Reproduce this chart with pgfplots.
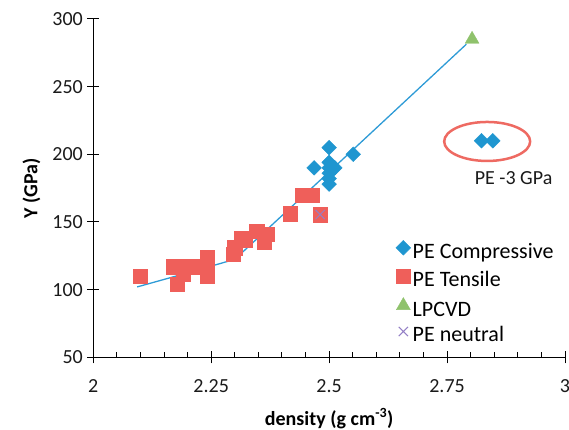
\documentclass[border=0pt]{standalone}
\usepackage{fontspec}
\setmainfont{Carlito}
\usepackage{pgfplots}
\pgfplotsset{compat=1.18}

\definecolor{compblue}{HTML}{1F96D0}
\definecolor{tensred}{HTML}{EF5F5A}
\definecolor{lpgreen}{HTML}{8FC26C}
\definecolor{neutpurple}{HTML}{9480C6}
\definecolor{trendblue}{HTML}{2E9BD6}
\definecolor{ringred}{HTML}{EE6A62}
\definecolor{ticktext}{HTML}{1A1A1A}

\begin{document}
\begin{tikzpicture}[font=\fontsize{20bp}{24bp}\selectfont]
\begin{axis}[
  at={(0,0)}, anchor=south west,
  scale only axis,
  width=471.7bp, height=338.3bp,
  xmin=2, xmax=3, ymin=50, ymax=300,
  axis lines=left,
  axis line style={-, line width=1.2bp, black},
  xtick={2,2.25,2.5,2.75,3},
  xticklabels={2,2.25,2.5,2.75,3},
  ytick={50,100,...,300},
  minor x tick num=4,
  tick align=center,
  major tick length=12bp,
  minor tick length=5bp,
  every tick/.style={black, line width=1bp},
  minor x tick style={yshift=2.5bp},
  /pgf/number format/assume math mode=true,
  tick label style={text=ticktext},
  xticklabel style={yshift=-13bp},
  yticklabel style={xshift=-1bp},
  xlabel={\textbf{density (g cm\textsuperscript{-3})}},
  ylabel={\textbf{Y (GPa)}},
  xlabel style={yshift=-9bp},
  ylabel style={yshift=5bp},
  clip=false,
  legend style={
    at={(axis description cs:0.635,0.352)}, anchor=north west,
    draw=none, fill=none,
    font=\fontsize{22bp}{26bp}\selectfont,
    row sep=6.8bp,
    nodes={inner xsep=2bp, inner ysep=0bp, text height=15bp, text depth=4bp},
    legend cell align=left,
  },
  legend image code/.code={\draw[#1] plot coordinates {(0bp,5bp)};},
]
\addplot[only marks, mark=square*, mark size=5.2bp,
  mark options={rotate=45, fill=compblue, draw=compblue}] coordinates {
(2.468,190) (2.500,205) (2.500,194) (2.500,190) (2.512,190)
(2.500,186) (2.500,182) (2.500,178) (2.551,200)
(2.823,210) (2.847,210)
};
\addlegendentry{PE Compressive}

\addplot[only marks, mark=square*, mark size=7.2bp,
  mark options={fill=tensred, draw=tensred}] coordinates {
(2.099,110) (2.178,104)
(2.170,117) (2.184,117) (2.198,117) (2.215,117) (2.230,117)
(2.190,111.5)
(2.242,124) (2.242,110) (2.242,117)
(2.297,126) (2.300,131) (2.314,138) (2.322,137)
(2.346,143) (2.362,135.5) (2.369,141)
(2.418,156) (2.444,170) (2.464,170) (2.481,155.5)
};
\addlegendentry{PE Tensile}

\addplot[forget plot, trendblue, line width=1.3bp] coordinates {
(2.093,102) (2.170,109.5) (2.244,116.8) (2.300,122.4)
(2.500,187) (2.791,281.4)
};

\addplot[only marks, mark=triangle*, mark size=8bp,
  mark options={fill=lpgreen, draw=lpgreen}] coordinates {
(2.803,285)
};
\addlegendentry{LPCVD}

\addplot[only marks, mark=x, mark size=6.5bp,
  mark options={draw=neutpurple, line width=1bp}] coordinates {
(2.481,155.5)
};
\addlegendentry{PE neutral}

\draw[ringred, line width=2.5bp] (axis cs:2.835,209.5) ellipse [x radius=43bp, y radius=19.5bp];
\node[text=ticktext] at (axis cs:2.891,182.5) {PE -3 GPa};
\end{axis}
\pgfresetboundingbox
\path[use as bounding box] (-93.3bp,-72.7bp) rectangle (475.7bp,357.3bp);
\end{tikzpicture}
\end{document}
